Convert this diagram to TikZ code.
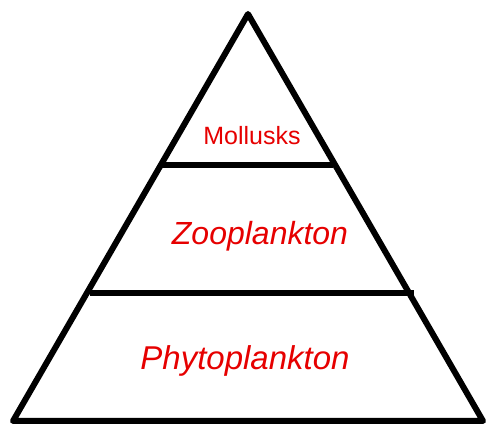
\documentclass[tikz,border=0pt]{standalone}
\usepackage{fontspec}
\setmainfont{Liberation Sans}
\usepackage{tikz}
\usetikzlibrary{calc}
\definecolor{level}{RGB}{230,0,0}
\tikzset{
  edge/.style={line width=6pt, black, line join=round},
  band/.style={line width=6pt, black},
  tier/.style={text=level, anchor=base, inner sep=0pt},
}

\begin{document}
\begin{tikzpicture}[x=1pt,y=-1pt]
        \useasboundingbox (0,0) rectangle (488,430);
        \coordinate (apex) at (248,14);
        \coordinate (bl) at (13,421);
        \coordinate (br) at (483,421);
        \draw[edge](apex)--(br)--(bl)--cycle;
        \coordinate (m1) at (162,165); \coordinate (m2) at (333,165);
        \coordinate (z1) at (90,293); \coordinate (z2) at (414,293);
        \draw[band](m1)--(m2);
        \draw[band](z1)--(z2);
        \node[tier,font=\fontsize{25}{30}\selectfont](moll) at (252,145){Mollusks};
        \node[tier,font=\fontsize{32}{38}\selectfont\itshape](zoo) at (260,245){Zooplankton};
        \node[tier,font=\fontsize{33}{39}\selectfont\itshape](phyto) at (245,370){Phytoplankton};
      \end{tikzpicture}
\end{document}
